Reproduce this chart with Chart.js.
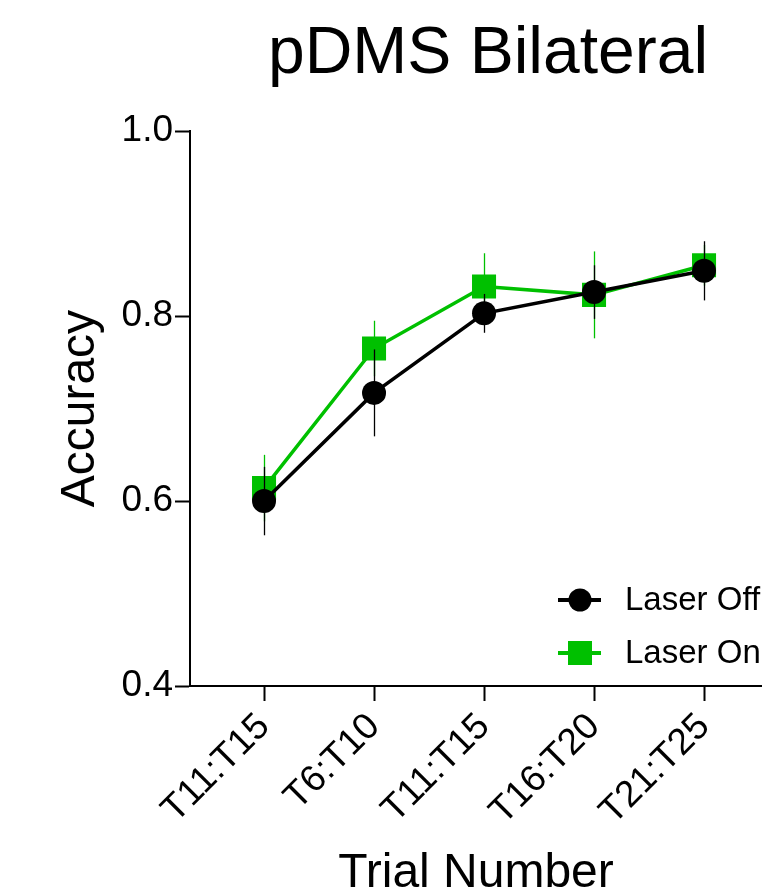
<!DOCTYPE html>
<html><head><meta charset="utf-8">
<script src="https://cdn.jsdelivr.net/npm/chart.js@4/dist/chart.umd.min.js"></script>
<style>html,body{margin:0;padding:0;background:#fff;overflow:hidden}</style>
</head><body>
<canvas id="c" width="762" height="894"></canvas>
<script>
const categories = ['T11:T15', 'T6:T10', 'T11:T15', 'T16:T20', 'T21:T25'];
const laserOff = [0.600, 0.717, 0.803, 0.826, 0.849];
const laserOffErr = [0.037, 0.047, 0.021, 0.029, 0.032];
const laserOn = [0.614, 0.765, 0.832, 0.823, 0.855];
const laserOnErr = [0.036, 0.030, 0.036, 0.047, 0.022];
const yTicks = [0.4, 0.6, 0.8, 1.0];
const seriesNames = ['Laser Off', 'Laser On'];

const FONT = "'Liberation Sans', Arial, sans-serif";
const BLACK = '#000000';
const GREEN = 'rgb(0,192,0)';
const errs = [laserOffErr, laserOnErr];

const errorBars = {
  id: 'errorBars',
  beforeDatasetDraw(chart, args) {
    const ds = chart.data.datasets[args.index];
    const e = errs[args.index];
    const xs = chart.scales.x, ys = chart.scales.y;
    const ctx = chart.ctx;
    ctx.save();
    ctx.strokeStyle = ds.borderColor;
    ctx.lineWidth = 1.3;
    ds.data.forEach((p, i) => {
      const x = Math.round(xs.getPixelForValue(p.x)) + 0.5;
      ctx.beginPath();
      ctx.moveTo(x, ys.getPixelForValue(p.y + e[i]));
      ctx.lineTo(x, ys.getPixelForValue(p.y - e[i]));
      ctx.stroke();
    });
    ctx.restore();
  }
};

// widen the title's box past the right edge so it centres like the reference
const titleShift = {
  id: 'titleShift',
  afterLayout(chart) {
    const t = chart.titleBlock;
    if (t) { t.left = chart.chartArea.left; t.right = chart.chartArea.right + 24; }
  }
};

const customLegend = {
  id: 'customLegend',
  afterDraw(chart) {
    const ctx = chart.ctx;
    const items = [
      {y: 600, color: BLACK, style: 'circle'},
      {y: 653, color: GREEN, style: 'rect'}
    ];
    ctx.save();
    items.forEach((it, i) => {
      ctx.strokeStyle = it.color;
      ctx.fillStyle = it.color;
      ctx.lineWidth = 4;
      ctx.beginPath();
      ctx.moveTo(558, it.y);
      ctx.lineTo(601, it.y);
      ctx.stroke();
      if (it.style === 'circle') {
        ctx.beginPath();
        ctx.arc(580, it.y, 11.5, 0, Math.PI * 2);
        ctx.fill();
      } else {
        ctx.fillRect(568, it.y - 12, 24, 24);
      }
      ctx.fillStyle = '#000';
      ctx.font = '33px ' + FONT;
      ctx.textBaseline = 'middle';
      ctx.textAlign = 'left';
      ctx.fillText(seriesNames[i], 625, it.y + 1);
    });
    ctx.restore();
  }
};

new Chart(document.getElementById('c'), {
  type: 'line',
  data: {
    datasets: [
      {
        label: seriesNames[0],
        data: laserOff.map((v, i) => ({x: i, y: v})),
        borderColor: BLACK, backgroundColor: BLACK,
        borderWidth: 3.5, tension: 0,
        pointStyle: 'circle', pointRadius: 12, pointBorderWidth: 0,
        pointBackgroundColor: BLACK
      },
      {
        label: seriesNames[1],
        data: laserOn.map((v, i) => ({x: i, y: v})),
        borderColor: GREEN, backgroundColor: GREEN,
        borderWidth: 3.5, tension: 0,
        pointStyle: 'rect', pointRadius: 17, pointBorderWidth: 0,
        pointBackgroundColor: GREEN
      }
    ]
  },
  options: {
    responsive: false,
    animation: false,
    devicePixelRatio: 1,
    layout: {autoPadding: false, padding: {left: 0, right: 0, top: 0, bottom: 0}},
    plugins: {
      legend: {display: false},
      tooltip: {enabled: false},
      title: {
        display: true, text: 'pDMS Bilateral', fullSize: false,
        color: '#000', font: {family: FONT, size: 66, weight: 'normal', lineHeight: 1.2},
        padding: {top: 15, bottom: 37}
      }
    },
    scales: {
      x: {
        type: 'linear', min: -0.673, max: 4.527,
        afterBuildTicks: s => { s.ticks = categories.map((_, i) => ({value: i})); },
        afterFit: s => { s.height = 208; s.paddingRight = 0; s.paddingLeft = 0; },
        ticks: {
          callback: v => categories[v],
          color: '#000', font: {family: FONT, size: 37},
          minRotation: 45, maxRotation: 45, autoSkip: false, padding: 4
        },
        grid: {drawOnChartArea: false, drawTicks: true, tickLength: 15, tickWidth: 2, tickColor: '#000'},
        border: {display: true, color: '#000', width: 2},
        title: {display: true, text: 'Trial Number', color: '#000',
          font: {family: FONT, size: 48, lineHeight: 0.85}, padding: 0}
      },
      y: {
        type: 'linear', min: 0.4, max: 1.0,
        afterBuildTicks: s => { s.ticks = yTicks.map(v => ({value: v})); },
        afterFit: s => { s.width = 190; },
        ticks: {
          callback: v => Number(v).toFixed(1),
          color: '#000', font: {family: FONT, size: 37}, padding: 2
        },
        grid: {drawOnChartArea: false, drawTicks: true, tickLength: 15, tickWidth: 2, tickColor: '#000'},
        border: {display: true, color: '#000', width: 2},
        title: {display: true, text: 'Accuracy', color: '#000',
          font: {family: FONT, size: 48, lineHeight: 1.2}, padding: {top: 52, bottom: 0}}
      }
    }
  },
  plugins: [errorBars, titleShift, customLegend]
});
</script>
</body></html>
